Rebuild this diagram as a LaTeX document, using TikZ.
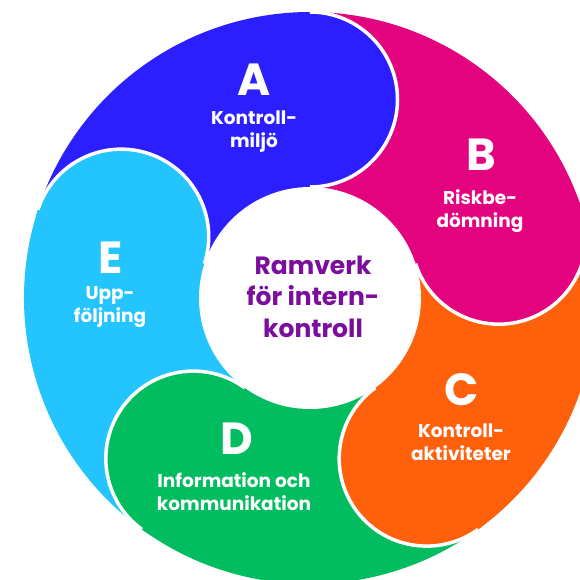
\documentclass[tikz,border=0pt]{standalone}
\usepackage{fontspec}
\setmainfont{Poppins}
\usepackage{xcolor}
\usepackage{tikz}
\usetikzlibrary{positioning}

\definecolor{segA}{RGB}{43,31,255}
\definecolor{segB}{RGB}{227,3,127}
\definecolor{segC}{RGB}{255,96,12}
\definecolor{segD}{RGB}{2,189,95}
\definecolor{segE}{RGB}{36,196,255}
\definecolor{ramlila}{RGB}{124,14,158}

\tikzset{
    letter/.style={text=white, anchor=base, inner sep=0pt, font=\fontsize{45}{45}\selectfont\bfseries},
    lbl/.style={text=white, anchor=base, align=center, inner sep=0pt, font=\fontsize{18.5}{23}\selectfont\bfseries},
    sep/.style={white, line width=3.5pt},
}

\begin{document}
\begin{tikzpicture}[x=1pt, y=1pt]
        \useasboundingbox (0,0) rectangle (580,-579);
        \begin{scope}[shift={(310,-298)}]
            % sectors of the ring
            \fill[segA] (0,0) -- (90:286) arc[start angle=90, end angle=162, radius=286] -- cycle;
            \fill[segB] (0,0) -- (18:286) arc[start angle=18, end angle=90, radius=286] -- cycle;
            \fill[segC] (0,0) -- (-54:286) arc[start angle=-54, end angle=18, radius=286] -- cycle;
            \fill[segD] (0,0) -- (-126:286) arc[start angle=-126, end angle=-54, radius=286] -- cycle;
            \fill[segE] (0,0) -- (162:286) arc[start angle=162, end angle=234, radius=286] -- cycle;
            % round heads
            \fill[segA] (90:198.5) circle (87.5);
            \draw[sep] (90:286) arc[start angle=90, end angle=-90, radius=87.5];
            \fill[segB] (18:198.5) circle (87.5);
            \draw[sep] (18:286) arc[start angle=18, end angle=-162, radius=87.5];
            \fill[segC] (-54:198.5) circle (87.5);
            \draw[sep] (-54:286) arc[start angle=-54, end angle=-234, radius=87.5];
            \fill[segD] (-126:198.5) circle (87.5);
            \draw[sep] (-126:286) arc[start angle=-126, end angle=-306, radius=87.5];
            \fill[segE] (162:198.5) circle (87.5);
            \draw[sep] (162:286) arc[start angle=162, end angle=-18, radius=87.5];
            % centre
            \fill[white] (0,0) circle (111);
        \end{scope}

        \node[text=ramlila, anchor=base, align=center, inner sep=0pt,
              font=\fontsize{25}{31.5}\selectfont\bfseries] (ramverk) at (313,-337)
              {Ramverk\\för intern-\\kontroll};

        \node[letter] (bokA) at (254,-95) {A};
        \node[lbl] (textA) at (254,-147) {Kontroll-\\miljö};
        \node[letter] (bokB) at (481,-170) {B};
        \node[lbl] (textB) at (480,-227) {Riskbe-\\dömning};
        \node[letter] (bokC) at (462,-405) {C};
        \node[lbl] (textC) at (461,-460) {Kontroll-\\aktiviteter};
        \node[letter] (bokD) at (237,-454) {D};
        \node[lbl] (textD) at (234,-510) {Information och\\kommunikation};
        \node[letter] (bokE) at (111,-273) {E};
        \node[lbl] (textE) at (110,-322) {Upp-\\följning};
\end{tikzpicture}
\end{document}
